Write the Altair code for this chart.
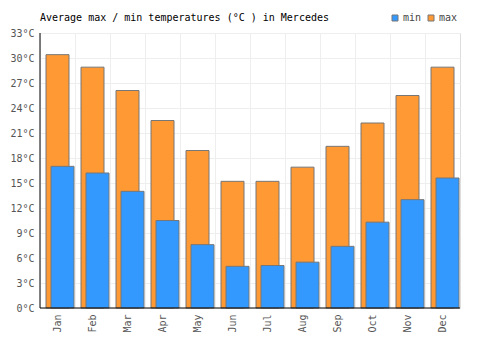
import altair as alt
import pandas as pd

months = ["Jan", "Feb", "Mar", "Apr", "May", "Jun", "Jul", "Aug", "Sep", "Oct", "Nov", "Dec"]
max_temps = [30.4, 28.9, 26.1, 22.5, 18.9, 15.2, 15.2, 16.9, 19.4, 22.2, 25.5, 28.9]
min_temps = [17.0, 16.2, 14.0, 10.5, 7.6, 5.0, 5.1, 5.5, 7.4, 10.3, 13.0, 15.6]
y_ticks = [0, 3, 6, 9, 12, 15, 18, 21, 24, 27, 30, 33]

FONT = "DejaVu Sans Mono"

df = pd.DataFrame({
    "month": months * 2,
    "series": ["max"] * 12 + ["min"] * 12,
    "value": max_temps + min_temps,
})

xenc = alt.X("month:N", sort=months, title=None,
             scale=alt.Scale(paddingInner=0, paddingOuter=0),
             axis=alt.Axis(labelAngle=270, ticks=False, domain=False, grid=True,
                           bandPosition=0, gridColor="#eeeeee", labelPadding=6,
                           labelFont=FONT, labelFontSize=10, labelColor="#555555"))
yenc = alt.Y("value:Q", title=None,
             scale=alt.Scale(domain=[0, 33], nice=False, zero=True),
             axis=alt.Axis(values=y_ticks, labelExpr="datum.value + '°C'", ticks=False,
                           domain=False, gridColor="#eeeeee", labelPadding=6,
                           labelFont=FONT, labelFontSize=10, labelColor="#555555"))
color = alt.Color("series:N", title=None,
                  scale=alt.Scale(domain=["min", "max"], range=["#3399ff", "#ff9933"]),
                  legend=alt.Legend(orient="none", legendX=350, legendY=-20, direction="horizontal",
                                    symbolType="square", symbolSize=36, symbolStrokeColor="#777777",
                                    symbolStrokeWidth=1, symbolOpacity=1, labelFont=FONT, labelFontSize=10,
                                    labelColor="#444444", labelOffset=3, columnPadding=4, padding=0))

base = alt.Chart(df)
bars_max = base.transform_filter("datum.series == 'max'").mark_bar(
    width=23, xOffset=0, stroke="#777777", strokeWidth=1, opacity=1
).encode(x=xenc, y=yenc, color=color)
bars_min = base.transform_filter("datum.series == 'min'").mark_bar(
    width=23, xOffset=5, stroke="#777777", strokeWidth=1, opacity=1
).encode(x=xenc, y=yenc, color=color)

axes = alt.Chart(pd.DataFrame({"a": [0]})).mark_rule(color="black", strokeWidth=1).encode(
    x=alt.value(0), x2=alt.value(0), y=alt.value(0), y2=alt.value(275)
)
axis_bottom = alt.Chart(pd.DataFrame({"a": [0]})).mark_rule(color="black", strokeWidth=1).encode(
    x=alt.value(0), x2=alt.value(420), y=alt.value(275)
)

chart = alt.layer(bars_max, bars_min, axes, axis_bottom).properties(
    width=420, height=275,
    title=alt.TitleParams("Average max / min temperatures (°C ) in Mercedes", anchor="start",
                          frame="group", font=FONT, fontSize=10, fontWeight="normal",
                          color="#000000", offset=0, dy=10),
    autosize=alt.AutoSizeParams(type="none"),
    padding={"left": 40, "top": 33, "right": 40, "bottom": 42},
).configure_view(stroke="#eeeeee").configure(background="white")

chart.save("out.html", embed_options={"renderer": "svg", "actions": False})
